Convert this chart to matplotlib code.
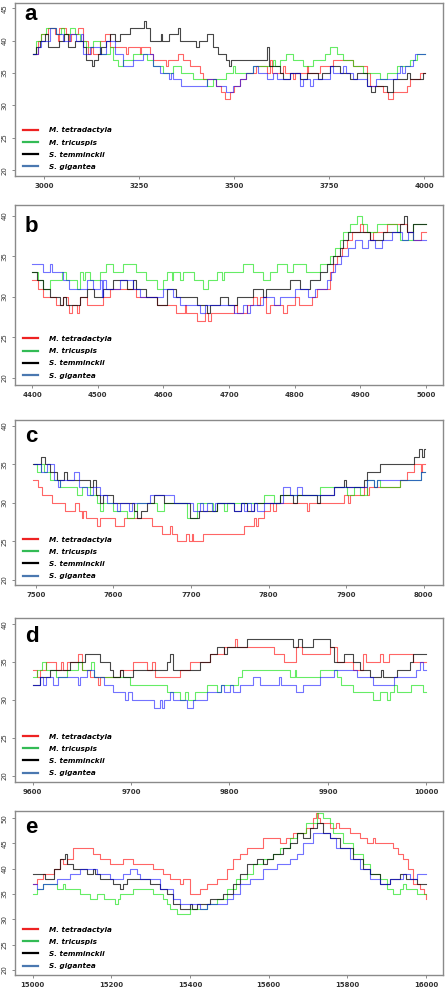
"""
Sliding-window step profiles for four species, five genomic regions (a-e).
"""

from matplotlib import pyplot as plt
from matplotlib.lines import Line2D

species = ['M. tetradactyla', 'M. tricuspis', 'S. temminckii', 'S. gigantea']
panel_labels = ['a', 'b', 'c', 'd', 'e']

# ---- panel a : (position, value) step points
red_a = [(2971, 38), (2984, 40), (2993, 41), (3011, 42), (3028, 41), (3037, 40), (3041, 42), (3059, 41),
         (3066, 40), (3072, 41), (3090, 42), (3103, 40), (3116, 38), (3125, 39), (3129, 38), (3147, 40),
         (3160, 41), (3173, 39), (3217, 38), (3221, 39), (3252, 38), (3256, 39), (3278, 38), (3287, 37),
         (3322, 36), (3327, 37), (3353, 38), (3366, 37), (3384, 36), (3410, 35), (3419, 34), (3454, 33),
         (3465, 32), (3476, 31), (3489, 32), (3500, 33), (3515, 34), (3533, 35), (3559, 36), (3586, 35),
         (3596, 37), (3601, 35), (3630, 36), (3635, 35), (3656, 34), (3661, 35), (3691, 36), (3696, 35),
         (3726, 36), (3761, 37), (3814, 36), (3849, 35), (3858, 33), (3893, 32), (3906, 31), (3919, 32),
         (3954, 33), (3963, 34), (3990, 35), (4003, 35)]
green_a = [(2971, 38), (2980, 40), (2993, 41), (3006, 42), (3032, 41), (3046, 42), (3054, 41), (3068, 42),
           (3081, 41), (3094, 40), (3112, 39), (3129, 40), (3147, 38), (3173, 39), (3182, 37), (3195, 36),
           (3208, 37), (3234, 38), (3270, 37), (3287, 36), (3313, 35), (3340, 36), (3362, 35), (3392, 34),
           (3428, 33), (3445, 34), (3480, 35), (3498, 36), (3503, 35), (3551, 36), (3603, 37), (3608, 36),
           (3621, 37), (3638, 38), (3656, 37), (3682, 36), (3709, 37), (3739, 38), (3752, 39), (3770, 38),
           (3788, 37), (3814, 36), (3840, 35), (3884, 34), (3902, 35), (3928, 36), (3963, 37), (3981, 38),
           (4003, 38)]
black_a = [(2971, 38), (2980, 39), (2989, 40), (3002, 41), (3011, 39), (3041, 40), (3054, 41), (3063, 39),
           (3081, 40), (3103, 39), (3112, 37), (3127, 36), (3133, 37), (3142, 38), (3151, 39), (3164, 40),
           (3173, 41), (3186, 40), (3199, 41), (3226, 42), (3263, 43), (3268, 42), (3278, 40), (3307, 41),
           (3312, 40), (3329, 41), (3353, 42), (3358, 40), (3399, 39), (3408, 40), (3428, 41), (3445, 39),
           (3458, 38), (3480, 37), (3487, 36), (3493, 37), (3586, 39), (3593, 36), (3621, 35), (3630, 34),
           (3647, 35), (3673, 34), (3691, 35), (3722, 34), (3731, 35), (3752, 36), (3779, 35), (3805, 34),
           (3823, 35), (3849, 33), (3860, 32), (3871, 33), (3902, 32), (3919, 34), (3954, 35), (3963, 34),
           (3997, 35), (4003, 35)]
blue_a = [(2971, 38), (2984, 39), (2993, 40), (3015, 42), (3032, 41), (3050, 40), (3068, 41), (3085, 40),
          (3098, 41), (3103, 38), (3120, 39), (3147, 38), (3164, 40), (3186, 38), (3208, 36), (3234, 37),
          (3261, 38), (3287, 36), (3305, 35), (3329, 34), (3335, 35), (3340, 34), (3362, 33), (3428, 34),
          (3454, 33), (3480, 32), (3498, 33), (3515, 34), (3533, 35), (3551, 36), (3564, 35), (3586, 34),
          (3603, 35), (3612, 34), (3647, 35), (3673, 33), (3682, 34), (3700, 33), (3709, 34), (3752, 36),
          (3761, 35), (3788, 36), (3796, 35), (3814, 34), (3849, 33), (3875, 34), (3928, 35), (3937, 36),
          (3941, 35), (3950, 36), (3972, 37), (3976, 38), (4003, 38)]

# ---- panel b
red_b = [(4400, 32), (4409, 31), (4417, 30), (4437, 29), (4447, 30), (4455, 29), (4457, 28), (4461, 29),
         (4469, 28), (4472, 29), (4473, 30), (4484, 29), (4508, 30), (4518, 31), (4559, 30), (4590, 29),
         (4620, 28), (4633, 29), (4635, 28), (4651, 27), (4663, 28), (4668, 27), (4672, 28), (4707, 29),
         (4712, 28), (4727, 29), (4737, 30), (4742, 29), (4747, 30), (4757, 28), (4763, 29), (4783, 28),
         (4788, 29), (4801, 30), (4806, 29), (4826, 30), (4834, 31), (4854, 33), (4859, 34), (4864, 35),
         (4872, 36), (4880, 37), (4887, 38), (4899, 39), (4904, 38), (4915, 37), (4920, 38), (4941, 39),
         (4971, 38), (4981, 37), (4992, 38), (5000, 38)]
green_b = [(4400, 33), (4409, 32), (4417, 31), (4427, 32), (4445, 33), (4452, 32), (4468, 31), (4473, 33),
           (4478, 32), (4480, 33), (4488, 32), (4503, 33), (4513, 34), (4524, 33), (4539, 34), (4559, 33),
           (4574, 32), (4590, 31), (4600, 32), (4605, 33), (4613, 32), (4615, 33), (4625, 32), (4630, 33),
           (4646, 32), (4661, 31), (4668, 32), (4681, 33), (4689, 32), (4692, 33), (4722, 34), (4737, 33),
           (4752, 32), (4763, 33), (4773, 34), (4788, 33), (4798, 34), (4818, 33), (4839, 34), (4854, 35),
           (4862, 36), (4869, 37), (4874, 38), (4885, 39), (4895, 40), (4902, 39), (4910, 38), (4925, 39),
           (4956, 38), (4961, 37), (4981, 39), (5000, 39)]
black_b = [(4400, 33), (4407, 32), (4417, 31), (4427, 30), (4442, 29), (4447, 30), (4452, 29), (4473, 30),
           (4483, 31), (4495, 30), (4508, 31), (4524, 32), (4544, 31), (4554, 32), (4559, 31), (4574, 30),
           (4590, 29), (4605, 31), (4620, 30), (4651, 29), (4666, 28), (4671, 29), (4686, 30), (4699, 29),
           (4712, 30), (4737, 31), (4752, 30), (4757, 31), (4793, 32), (4808, 31), (4824, 32), (4839, 33),
           (4849, 34), (4859, 35), (4869, 36), (4874, 37), (4882, 38), (4915, 37), (4935, 38), (4961, 39),
           (4967, 40), (4971, 38), (4981, 39), (5000, 39)]
blue_b = [(4400, 34), (4417, 33), (4427, 34), (4431, 33), (4447, 32), (4457, 31), (4483, 32), (4493, 31),
          (4503, 32), (4506, 30), (4508, 32), (4513, 31), (4534, 32), (4554, 31), (4564, 30), (4600, 31),
          (4615, 30), (4625, 29), (4656, 28), (4663, 29), (4707, 28), (4722, 29), (4727, 28), (4732, 29),
          (4752, 30), (4768, 29), (4778, 30), (4800, 31), (4821, 30), (4831, 31), (4849, 32), (4856, 33),
          (4861, 34), (4871, 35), (4882, 36), (4892, 37), (4902, 36), (4912, 37), (4922, 36), (4933, 37),
          (4948, 38), (4963, 37), (4973, 38), (4981, 37), (5000, 37)]

# ---- panel c
red_c = [(7496, 33), (7503, 32), (7508, 31), (7521, 30), (7538, 29), (7551, 30), (7555, 29), (7559, 28),
         (7561, 29), (7564, 28), (7579, 27), (7582, 28), (7602, 27), (7613, 28), (7650, 27), (7663, 26),
         (7673, 27), (7675, 26), (7682, 25), (7694, 26), (7697, 25), (7701, 26), (7703, 25), (7716, 26),
         (7768, 27), (7781, 28), (7784, 27), (7787, 28), (7794, 29), (7802, 30), (7806, 29), (7809, 30),
         (7850, 29), (7852, 30), (7897, 31), (7902, 30), (7905, 31), (7923, 32), (7927, 31), (7930, 32),
         (7970, 33), (7979, 34), (7987, 35), (7996, 34), (7998, 35), (8002, 35)]
green_c = [(7497, 35), (7501, 34), (7506, 35), (7510, 34), (7518, 33), (7531, 32), (7553, 31), (7559, 32),
           (7570, 31), (7579, 30), (7583, 29), (7587, 30), (7600, 29), (7617, 28), (7626, 29), (7630, 30),
           (7656, 29), (7665, 30), (7695, 28), (7708, 30), (7729, 29), (7734, 30), (7742, 29), (7746, 30),
           (7794, 31), (7807, 30), (7815, 31), (7867, 32), (7901, 31), (7910, 32), (7918, 31), (7927, 33),
           (7936, 32), (7940, 33), (7944, 32), (7970, 33), (7996, 34), (8002, 34)]
black_c = [(7496, 35), (7506, 36), (7512, 35), (7518, 34), (7527, 33), (7536, 34), (7540, 33), (7570, 32),
           (7574, 33), (7577, 31), (7583, 30), (7587, 31), (7600, 30), (7626, 29), (7630, 28), (7635, 29),
           (7643, 30), (7652, 31), (7665, 30), (7699, 28), (7710, 29), (7733, 30), (7755, 29), (7764, 30),
           (7772, 29), (7781, 30), (7815, 31), (7832, 30), (7837, 31), (7862, 30), (7867, 31), (7884, 32),
           (7897, 33), (7900, 32), (7923, 33), (7927, 34), (7944, 35), (7987, 36), (7994, 37), (7998, 36),
           (8000, 37), (8002, 37)]
blue_c = [(7497, 35), (7506, 34), (7514, 35), (7523, 33), (7529, 32), (7531, 33), (7549, 34), (7555, 32),
          (7566, 31), (7574, 32), (7583, 31), (7592, 30), (7604, 29), (7609, 30), (7620, 29), (7624, 30),
          (7647, 31), (7678, 30), (7703, 29), (7712, 30), (7716, 29), (7721, 30), (7727, 29), (7731, 30),
          (7755, 29), (7764, 30), (7768, 29), (7772, 30), (7777, 29), (7781, 30), (7785, 29), (7794, 30),
          (7819, 32), (7828, 31), (7837, 32), (7843, 31), (7884, 32), (7927, 33), (7936, 32), (7940, 33),
          (7996, 34), (8002, 34)]

# ---- panel d
red_d = [(9600, 34), (9604, 33), (9607, 34), (9613, 35), (9624, 34), (9629, 35), (9631, 34), (9635, 35),
         (9646, 36), (9650, 34), (9658, 33), (9666, 32), (9668, 33), (9689, 34), (9702, 35), (9716, 34),
         (9721, 35), (9724, 33), (9750, 34), (9760, 35), (9780, 36), (9794, 37), (9806, 38), (9808, 37),
         (9845, 36), (9855, 35), (9868, 37), (9874, 36), (9902, 37), (9909, 35), (9926, 34), (9936, 36),
         (9939, 35), (9953, 36), (9956, 35), (9962, 36), (9987, 35), (10000, 35)]
green_d = [(9600, 33), (9604, 34), (9609, 35), (9613, 34), (9624, 33), (9635, 34), (9646, 35), (9650, 34),
           (9659, 35), (9662, 33), (9699, 32), (9736, 31), (9750, 30), (9755, 31), (9758, 30), (9765, 31),
           (9777, 32), (9787, 31), (9791, 32), (9809, 33), (9813, 34), (9862, 33), (9867, 34), (9868, 33),
           (9892, 34), (9909, 33), (9913, 32), (9926, 31), (9946, 30), (9953, 31), (9960, 30), (9963, 31),
           (9967, 32), (9970, 31), (9984, 32), (9997, 31), (10000, 31)]
black_d = [(9600, 32), (9607, 33), (9618, 34), (9638, 35), (9653, 36), (9668, 35), (9679, 34), (9682, 33),
           (9689, 34), (9692, 33), (9702, 34), (9736, 35), (9740, 36), (9743, 34), (9770, 35), (9780, 36),
           (9787, 37), (9794, 36), (9797, 37), (9818, 38), (9865, 37), (9870, 38), (9874, 37), (9885, 38),
           (9902, 37), (9906, 35), (9916, 36), (9926, 35), (9933, 34), (9943, 33), (9954, 34), (9956, 33),
           (9970, 34), (9983, 35), (9987, 36), (10000, 36)]
blue_d = [(9600, 32), (9607, 33), (9610, 32), (9613, 33), (9621, 32), (9626, 33), (9646, 32), (9648, 33),
          (9655, 34), (9662, 33), (9672, 32), (9682, 31), (9694, 30), (9697, 31), (9701, 30), (9723, 29),
          (9729, 30), (9731, 29), (9733, 30), (9740, 31), (9743, 30), (9757, 29), (9763, 30), (9777, 31),
          (9791, 32), (9794, 31), (9801, 32), (9804, 31), (9811, 32), (9824, 33), (9831, 32), (9850, 33),
          (9852, 32), (9868, 31), (9875, 32), (9892, 33), (9906, 34), (9930, 33), (9946, 32), (9967, 33),
          (9990, 34), (9994, 35), (9997, 34), (10000, 34)]

# ---- panel e
red_e = [(15002, 37), (15010, 38), (15027, 39), (15053, 40), (15069, 42), (15078, 41), (15086, 42),
         (15103, 44), (15154, 43), (15171, 42), (15197, 41), (15230, 42), (15256, 41), (15307, 40),
         (15332, 39), (15349, 38), (15374, 37), (15383, 38), (15400, 35), (15425, 36), (15442, 37),
         (15468, 38), (15493, 40), (15510, 42), (15527, 43), (15544, 44), (15586, 46), (15628, 45),
         (15645, 46), (15662, 47), (15696, 48), (15713, 50), (15720, 51), (15726, 50), (15730, 49),
         (15756, 48), (15772, 49), (15778, 48), (15806, 47), (15832, 46), (15849, 45), (15866, 46),
         (15871, 45), (15917, 44), (15929, 43), (15942, 42), (15955, 40), (15967, 37), (15984, 36),
         (15994, 35), (16000, 34)]
green_e = [(15002, 35), (15010, 36), (15027, 37), (15061, 36), (15078, 37), (15083, 36), (15120, 35),
           (15146, 34), (15163, 35), (15180, 34), (15209, 33), (15218, 34), (15222, 35), (15256, 36),
           (15307, 35), (15332, 34), (15341, 33), (15349, 32), (15366, 31), (15400, 32), (15442, 33),
           (15468, 34), (15493, 36), (15518, 38), (15544, 39), (15561, 41), (15586, 42), (15612, 43),
           (15628, 44), (15654, 46), (15671, 47), (15696, 49), (15722, 51), (15739, 50), (15756, 49),
           (15764, 47), (15789, 45), (15815, 43), (15840, 41), (15857, 39), (15883, 38), (15900, 36),
           (15916, 35), (15933, 36), (15942, 37), (15949, 36), (15976, 35), (16000, 35)]
black_e = [(15002, 39), (15031, 38), (15053, 40), (15069, 42), (15082, 43), (15086, 41), (15103, 40),
           (15137, 39), (15154, 40), (15158, 39), (15171, 38), (15205, 37), (15222, 36), (15230, 37),
           (15239, 38), (15298, 37), (15324, 36), (15341, 35), (15357, 33), (15374, 32), (15400, 33),
           (15404, 32), (15417, 33), (15451, 34), (15485, 35), (15510, 37), (15527, 39), (15544, 41),
           (15569, 42), (15586, 41), (15595, 42), (15612, 43), (15637, 44), (15654, 45), (15671, 47),
           (15688, 46), (15705, 48), (15722, 49), (15739, 47), (15756, 46), (15781, 44), (15815, 42),
           (15840, 40), (15857, 39), (15883, 37), (15908, 38), (15933, 39), (15950, 38), (15976, 37),
           (16000, 37)]
blue_e = [(15002, 37), (15010, 36), (15027, 37), (15061, 38), (15095, 39), (15120, 40), (15163, 39),
          (15197, 38), (15230, 39), (15247, 40), (15264, 39), (15273, 38), (15324, 36), (15357, 34),
          (15374, 33), (15425, 32), (15442, 33), (15493, 34), (15510, 35), (15527, 37), (15552, 38),
          (15586, 40), (15620, 41), (15654, 42), (15671, 43), (15688, 45), (15713, 47), (15756, 46),
          (15772, 44), (15806, 42), (15832, 40), (15857, 38), (15883, 37), (15908, 38), (15942, 39),
          (15959, 38), (15976, 39), (16000, 39)]

panels = [
    [red_a, green_a, black_a, blue_a],
    [red_b, green_b, black_b, blue_b],
    [red_c, green_c, black_c, blue_c],
    [red_d, green_d, black_d, blue_d],
    [red_e, green_e, black_e, blue_e],
]

# axis ranges and ticks per panel
xlims = [(2924, 4050), (4374, 5026), (7473, 8025), (9582, 10017), (14955, 16043)]
ylims = [(19.1, 45.8), (19.1, 41.3), (19.35, 40.74), (19.2, 40.8), (19.0, 51.4)]
xticks = [range(3000, 4001, 250), range(4400, 5001, 100), range(7500, 8001, 100),
          range(9600, 10001, 100), range(15000, 16001, 200)]
yticks = [range(20, 46, 5), range(20, 41, 5), range(20, 41, 5), range(20, 41, 5), range(20, 51, 5)]

# pixel boxes (top, bottom) of each panel in a 445x992 image
boxes = [(3, 176), (205, 385), (420, 585), (618, 782), (811, 975)]
label_drop = [17, 27, 22, 24, 22]

line_colors = ['#ff0000', '#00e000', '#000000', '#0000ff']
line_alpha = [0.6, 0.6, 0.72, 0.55]
legend_colors = ['#ee2222', '#33bb55', '#000000', '#4a78b0']

W, H = 445, 992
fig = plt.figure(figsize=(W / 100, H / 100), dpi=100)

for i, series in enumerate(panels):
    top, bottom = boxes[i]
    ax = fig.add_axes([15 / W, 1 - bottom / H, 428 / W, (bottom - top) / H])

    for pts, col, al in zip(series, line_colors, line_alpha):
        xs = [p[0] for p in pts]
        ys = [p[1] for p in pts]
        ax.step(xs, ys, where='post', color=col, alpha=al, lw=0.8)

    ax.set_xlim(*xlims[i])
    ax.set_ylim(*ylims[i])
    ax.set_xticks(list(xticks[i]))
    ax.set_yticks(list(yticks[i]))
    ax.tick_params(axis='both', length=2.5, width=0.6, color='#777777',
                   labelsize=5, labelcolor='#333333')
    ax.tick_params(axis='x', pad=2.5)
    ax.tick_params(axis='y', pad=3)
    for lab in ax.get_yticklabels():
        lab.set_rotation(90)
        lab.set_va('center')
    for lab in ax.get_xticklabels():
        lab.set_fontweight('bold')
    for sp in ax.spines.values():
        sp.set_color('#8a8a8a')
        sp.set_linewidth(1.0)

    ax.annotate(panel_labels[i], xy=(0, 1), xycoords='axes fraction',
                xytext=(7, -label_drop[i] * 0.72), textcoords='offset points',
                fontsize=16, fontweight='bold', family='Liberation Sans',
                ha='left', va='baseline')

    handles = [Line2D([], [], color=c, lw=1.6) for c in legend_colors]
    ax.legend(handles, species, loc='lower left', bbox_to_anchor=(0.019, 0.035),
              frameon=False, borderpad=0, borderaxespad=0, handlelength=2.0,
              handletextpad=1.6, labelspacing=0.85,
              prop={'size': 5.2, 'weight': 'bold', 'style': 'italic'})

fig.savefig('out.png', dpi=100)
